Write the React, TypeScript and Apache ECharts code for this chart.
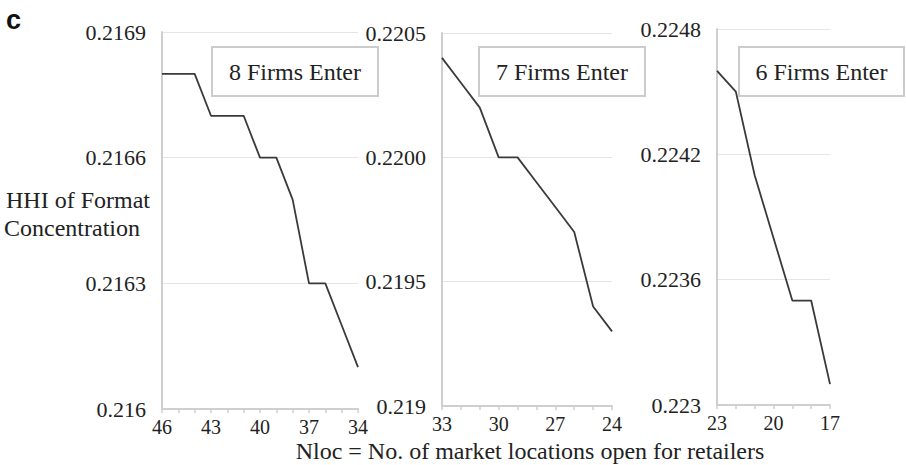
import React, { useEffect, useRef } from "react";
import * as echarts from "echarts";

// Panel 1: 8 firms enter
const nloc8 = ["46", "45", "44", "43", "42", "41", "40", "39", "38", "37", "36", "35", "34"];
const hhi8 = [0.2168, 0.2168, 0.2168, 0.2167, 0.2167, 0.2167, 0.2166, 0.2166, 0.2165, 0.2163, 0.2163, 0.2162, 0.2161];
const yTicks8 = [0.216, 0.2163, 0.2166, 0.2169];
const yLabels8 = ["0.216", "0.2163", "0.2166", "0.2169"];

// Panel 2: 7 firms enter
const nloc7 = ["33", "32", "31", "30", "29", "28", "27", "26", "25", "24"];
const hhi7 = [0.2204, 0.2203, 0.2202, 0.22, 0.22, 0.2199, 0.2198, 0.2197, 0.2194, 0.2193];
const yTicks7 = [0.219, 0.2195, 0.22, 0.2205];
const yLabels7 = ["0.219", "0.2195", "0.2200", "0.2205"];

// Panel 3: 6 firms enter
const nloc6 = ["23", "22", "21", "20", "19", "18", "17"];
const hhi6 = [0.2246, 0.2245, 0.2241, 0.2238, 0.2235, 0.2235, 0.2231];
const yTicks6 = [0.223, 0.2236, 0.2242, 0.2248];
const yLabels6 = ["0.223", "0.2236", "0.2242", "0.2248"];

const panelTitles = ["8 Firms Enter", "7 Firms Enter", "6 Firms Enter"];
const yTitleLines = ["HHI of Format", "Concentration"];
const xTitle = "Nloc = No. of market locations open for retailers";
const panelTag = "c";

const FONT = "Liberation Serif";

export default function App() {
  const ref = useRef<HTMLDivElement>(null);

  useEffect(() => {
    if (!ref.current) return;
    const chart = echarts.init(ref.current, null, { renderer: "svg" });

    const grids = [
      { left: 162, top: 32, width: 196, height: 377 },
      { left: 442, top: 33, width: 170, height: 373 },
      { left: 717, top: 29, width: 113, height: 376 },
    ];
    const cats = [nloc8, nloc7, nloc6];
    const vals = [hhi8, hhi7, hhi6];
    const ticks = [yTicks8, yTicks7, yTicks6];
    const labels = [yLabels8, yLabels7, yLabels6];

    const axisColor = "#cfcfcf";

    const xAxis = cats.map((c, i) => ({
      type: "category",
      gridIndex: i,
      data: c,
      boundaryGap: false,
      axisLine: { show: true, lineStyle: { color: axisColor, width: 2 } },
      axisTick: { show: true, interval: 0, length: 4, lineStyle: { color: axisColor, width: 1.5 } },
      axisLabel: { interval: 2, fontFamily: FONT, fontSize: 20, color: "#222", margin: 8 },
      splitLine: { show: false },
    }));

    const yAxis = ticks.map((t, i) => ({
      type: "value",
      gridIndex: i,
      min: t[0],
      max: t[t.length - 1],
      axisLine: { show: true, lineStyle: { color: axisColor, width: 2 } },
      axisTick: { show: false, customValues: t },
      axisLabel: {
        customValues: t,
        fontFamily: FONT,
        fontSize: 22,
        color: "#222",
        margin: 16,
        formatter: (v: number) => {
          let best = 0;
          for (let k = 1; k < t.length; k++) {
            if (Math.abs(t[k] - v) < Math.abs(t[best] - v)) best = k;
          }
          return labels[i][best];
        },
      },
      splitLine: { show: true, lineStyle: { color: "#e4e4e4", width: 1.2 } },
    }));

    const series: any[] = vals.map((v, i) => ({
      type: "line",
      xAxisIndex: i,
      yAxisIndex: i,
      data: v,
      symbol: "none",
      lineStyle: { color: "#3a3a3a", width: 1.8 },
      z: 3,
    }));

    const boxes = [
      { x: 212, w: 166 },
      { x: 479, w: 166 },
      { x: 739, w: 165 },
    ];

    const graphic: any[] = [];
    boxes.forEach((b, i) => {
      graphic.push({
        type: "rect",
        shape: { x: b.x, y: 47, width: b.w, height: 49 },
        style: { fill: "#fff", stroke: "#cccccc", lineWidth: 2 },
        z: 10,
      });
      graphic.push({
        type: "text",
        x: b.x + b.w / 2,
        y: 71.5,
        style: {
          text: panelTitles[i],
          fontFamily: FONT,
          fontSize: 24,
          fill: "#222",
          align: "center",
          verticalAlign: "middle",
        },
        z: 11,
      });
    });
    graphic.push({
      type: "text",
      x: 6,
      y: 200,
      style: { text: yTitleLines[0], fontFamily: FONT, fontSize: 24, fill: "#222", verticalAlign: "middle" },
    });
    graphic.push({
      type: "text",
      x: 4,
      y: 228,
      style: { text: yTitleLines[1], fontFamily: FONT, fontSize: 24, fill: "#222", verticalAlign: "middle" },
    });
    graphic.push({
      type: "text",
      x: 530,
      y: 451,
      style: {
        text: xTitle,
        fontFamily: FONT,
        fontSize: 24,
        fill: "#222",
        align: "center",
        verticalAlign: "middle",
      },
    });
    graphic.push({
      type: "text",
      x: 6,
      y: 20,
      style: {
        text: panelTag,
        fontFamily: "Liberation Sans",
        fontWeight: "bold",
        fontSize: 27,
        fill: "#111",
        verticalAlign: "middle",
      },
    });

    chart.setOption({
      animation: false,
      backgroundColor: "#fff",
      grid: grids,
      xAxis,
      yAxis,
      series,
      graphic,
    });

    return () => chart.dispose();
  }, []);

  return (
    <div
      ref={ref}
      style={{ position: "absolute", left: 0, top: 0, width: 906, height: 465 }}
    />
  );
}
